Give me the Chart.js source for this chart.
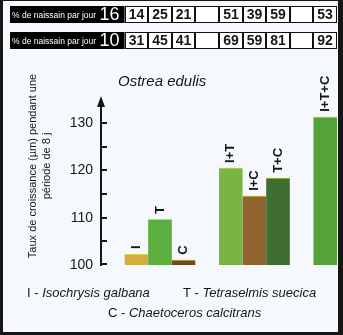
<!DOCTYPE html>
<html>
<head>
<meta charset="utf-8">
<script src="https://cdn.jsdelivr.net/npm/chart.js@4"></script>
<style>
  html, body { margin: 0; padding: 0; background: #161616; }
  #frame { position: relative; width: 343px; height: 335px; overflow: hidden; }
  #panel { position: absolute; left: 3px; top: 1px; width: 335px; height: 331px; background: #f5f8fc; }
  #chart { position: absolute; left: 0; top: 0; }
</style>
</head>
<body>
<div id="frame">
  <div id="panel"></div>
  <canvas id="chart" width="343" height="335"></canvas>
</div>
<script>
// data
const categories = ['', 'I', 'T', 'C', '', 'I+T', 'I+C', 'T+C', '', 'I+T+C'];
const growthValues = [null, 102.3, 109.7, 101.1, null, 120.5, 114.6, 118.4, null, 131.3];
const barColors = [null, '#d3ad42', '#5cae3e', '#6e4b24', null, '#7ab443', '#8f6330', '#3f6d2f', null, '#56a23b'];
const seedLabels = ['16', '10'];
const seed16 = [null, 14, 25, 21, null, 51, 39, 59, null, 53];
const seed10 = [null, 31, 45, 41, null, 69, 59, 81, null, 92];
const yTicks = [100, 105, 110, 115, 120, 125, 130];
const species = 'Ostrea edulis';
const yTitle = ['Taux de croissance (µm) pendant une', 'période de 8 j'];
const legendCodes = ['I', 'T', 'C'];
const legendNames = ['Isochrysis galbana', 'Tetraselmis suecica', 'Chaetoceros calcitrans'];

const FONT = '"Liberation Sans", Arial, sans-serif';
const INK = '#161616';

// table of % naissain above the bars, aligned on the x scale
const seedTable = {
  id: 'seedTable',
  afterDraw(chart) {
    const ctx = chart.ctx;
    const x = chart.scales.x;
    const w = x.getPixelForValue(1) - x.getPixelForValue(0);
    const rows = [[seedLabels[0], seed16, 6], [seedLabels[1], seed10, 32]];
    const h = 17;
    ctx.save();
    rows.forEach(([label, vals, top]) => {
      const firstLeft = x.getPixelForValue(1) - w / 2;
      ctx.fillStyle = '#000';
      ctx.fillRect(10, top, firstLeft - 10, h);
      ctx.fillStyle = '#fff';
      ctx.textBaseline = 'middle';
      ctx.textAlign = 'left';
      ctx.font = '8.5px ' + FONT;
      ctx.fillText('% de naissain par jour', 12, top + h / 2 + 1);
      ctx.textAlign = 'right';
      ctx.font = '18px ' + FONT;
      ctx.fillText(label, firstLeft - 5, top + h / 2 + 1);
      for (let i = 1; i < categories.length; i++) {
        const left = Math.round(x.getPixelForValue(i) - w / 2);
        const right = Math.round(x.getPixelForValue(i) + w / 2);
        ctx.fillStyle = '#fff';
        ctx.fillRect(left, top, right - left, h);
        ctx.strokeStyle = '#111';
        ctx.lineWidth = 1;
        ctx.strokeRect(left + 0.5, top + 0.5, right - left - 1, h - 1);
        if (vals[i] != null) {
          ctx.fillStyle = INK;
          ctx.textAlign = 'center';
          ctx.font = 'bold 14px ' + FONT;
          ctx.fillText(String(vals[i]), (left + right) / 2, top + h / 2 + 1);
        }
      }
    });
    ctx.restore();
  }
};

// rotated letters above each bar
const barLabels = {
  id: 'barLabels',
  afterDatasetsDraw(chart) {
    const ctx = chart.ctx;
    const meta = chart.getDatasetMeta(0);
    ctx.save();
    ctx.fillStyle = INK;
    ctx.font = 'bold 13px ' + FONT;
    ctx.textAlign = 'left';
    ctx.textBaseline = 'middle';
    meta.data.forEach((bar, i) => {
      if (growthValues[i] == null) return;
      ctx.save();
      ctx.translate(bar.x, bar.y - 5);
      ctx.rotate(-Math.PI / 2);
      ctx.fillText(categories[i], 0, 0);
      ctx.restore();
    });
    ctx.restore();
  }
};

// arrow on the y axis, tick marks drawn inside, titles and legend
const decorations = {
  id: 'decorations',
  afterDraw(chart) {
    const ctx = chart.ctx;
    const y = chart.scales.y;
    const ax = chart.chartArea.left;
    ctx.save();
    ctx.strokeStyle = INK;
    ctx.fillStyle = INK;
    ctx.lineWidth = 2;
    ctx.beginPath();
    ctx.moveTo(ax, chart.chartArea.top);
    ctx.lineTo(ax, chart.chartArea.top - 2);
    ctx.stroke();
    ctx.beginPath();
    ctx.moveTo(ax, 96);
    ctx.lineTo(ax - 4, 107);
    ctx.lineTo(ax + 4, 107);
    ctx.closePath();
    ctx.fill();
    yTicks.forEach(v => {
      const py = Math.round(y.getPixelForValue(v));
      ctx.beginPath();
      ctx.moveTo(ax - 1, py - (v === 100 ? 1 : 0));
      ctx.lineTo(ax + 6, py - (v === 100 ? 1 : 0));
      ctx.stroke();
    });

    ctx.textBaseline = 'middle';
    ctx.textAlign = 'left';
    ctx.font = 'italic 15px ' + FONT;
    ctx.fillText(species, 118, 82);

    ctx.save();
    ctx.translate(33, 166);
    ctx.rotate(-Math.PI / 2);
    ctx.textAlign = 'center';
    ctx.font = '11px ' + FONT;
    ctx.fillText(yTitle[0], 0, 0);
    ctx.fillText(yTitle[1], 0, 14);
    ctx.restore();

    const spots = [[27, 293], [183, 293], [108, 313]];
    legendCodes.forEach((code, i) => {
      let [lx, ly] = spots[i];
      ctx.font = '13px ' + FONT;
      const head = code + ' - ';
      ctx.fillText(head, lx, ly);
      lx += ctx.measureText(head).width;
      ctx.font = 'italic 13px ' + FONT;
      ctx.fillText(legendNames[i], lx, ly);
    });
    ctx.restore();
  }
};

const chart = new Chart(document.getElementById('chart'), {
  type: 'bar',
  data: {
    labels: categories,
    datasets: [{
      data: growthValues,
      backgroundColor: barColors,
      borderColor: '#e9e25a',
      borderWidth: { top: 1, left: 0, right: 0, bottom: 0 },
      borderSkipped: 'start',
      barPercentage: 1,
      categoryPercentage: 1
    }]
  },
  options: {
    responsive: false,
    animation: false,
    devicePixelRatio: 1,
    layout: { padding: { top: 104, bottom: 70, left: 0, right: 6 } },
    plugins: { legend: { display: false }, tooltip: { enabled: false } },
    scales: {
      x: { display: false },
      y: {
        min: 100,
        max: 134,
        afterFit(scale) { scale.width = 101; },
        afterBuildTicks(scale) { scale.ticks = yTicks.map(v => ({ value: v })); },
        grid: { drawOnChartArea: false, drawTicks: false },
        border: { display: true, color: INK, width: 2 },
        ticks: {
          padding: 8,
          color: INK,
          font: { family: FONT, size: 14 },
          callback: v => (v % 10 === 0 ? String(v) : '')
        }
      }
    }
  },
  plugins: [seedTable, barLabels, decorations]
});
</script>
</body>
</html>
